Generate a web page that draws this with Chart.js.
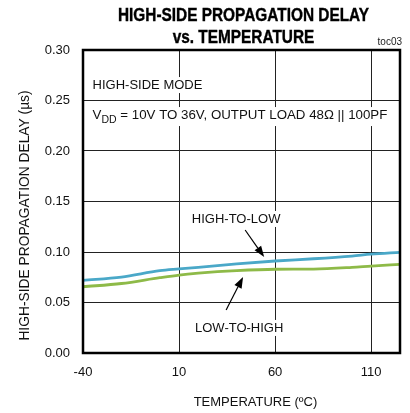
<!DOCTYPE html>
<html>
<head>
<meta charset="utf-8">
<script src="https://cdn.jsdelivr.net/npm/chart.js@4.4.1/dist/chart.umd.min.js"></script>
<style>
  html, body { margin: 0; padding: 0; background: #fff; }
  #wrap { width: 410px; height: 413px; }
</style>
</head>
<body>
<div id="wrap"><canvas id="grafico"></canvas></div>
<script>
// Datos
const temperaturas = [-40, -20, 0, 10, 20, 40, 60, 80, 100, 110, 125];
const altoABajo = [0.0720, 0.0752, 0.0815, 0.0832, 0.0848, 0.0882, 0.0911, 0.0933, 0.0960, 0.0978, 0.0997];
const bajoAAlto = [0.0656, 0.0688, 0.0746, 0.0772, 0.0790, 0.0815, 0.0829, 0.0831, 0.0848, 0.0861, 0.0878];
const ticksX = [-40, 10, 60, 110];
const ticksY = [0, 0.05, 0.10, 0.15, 0.20, 0.25, 0.30];
const titulo = ['HIGH-SIDE PROPAGATION DELAY', 'vs. TEMPERATURE'];

const fuente = '"Liberation Sans", Arial, sans-serif';

// anotaciones en unidades de datos
const notas = {
    modo: { x: -35, y: 0.2653, texto: 'HIGH-SIDE MODE' },
    vdd: { x: -35, y: 0.2356 },
    altoBajo: { x: 39.7, y: 0.1327, texto: 'HIGH-TO-LOW', desde: [44.4, 0.1218], hasta: [54.3, 0.0950] },
    bajoAlto: { x: 41.3, y: 0.0248, texto: 'LOW-TO-HIGH', desde: [34.5, 0.0426], hasta: [43.3, 0.0752] }
};

function textoConFondo(ctx, texto, x, y, align) {
    const w = ctx.measureText(texto).width;
    const x0 = align === 'center' ? x - w / 2 : x;
    ctx.fillStyle = '#fff';
    ctx.fillRect(x0 - 2, y - 8, w + 4, 16);
    ctx.fillStyle = '#111';
    ctx.textAlign = align;
    ctx.textBaseline = 'middle';
    ctx.fillText(texto, x, y);
    return w;
}

function flecha(ctx, x1, y1, x2, y2) {
    const ang = Math.atan2(y2 - y1, x2 - x1);
    const largo = 11, ancho = 4;
    const bx = x2 - largo * Math.cos(ang), by = y2 - largo * Math.sin(ang);
    ctx.strokeStyle = '#000';
    ctx.lineWidth = 1.2;
    ctx.beginPath();
    ctx.moveTo(x1, y1);
    ctx.lineTo(bx, by);
    ctx.stroke();
    ctx.fillStyle = '#000';
    ctx.beginPath();
    ctx.moveTo(x2, y2);
    ctx.lineTo(bx + ancho * Math.sin(ang), by - ancho * Math.cos(ang));
    ctx.lineTo(bx - ancho * Math.sin(ang), by + ancho * Math.cos(ang));
    ctx.closePath();
    ctx.fill();
}

const pluginNotas = {
    id: 'notas',
    beforeDatasetsDraw(chart) {
        const ctx = chart.ctx;
        const sx = chart.scales.x, sy = chart.scales.y;
        ctx.save();
        ctx.font = '13px ' + fuente;

        textoConFondo(ctx, notas.modo.texto, sx.getPixelForValue(notas.modo.x), sy.getPixelForValue(notas.modo.y), 'left');

        // linea VDD con subindice
        let x = sx.getPixelForValue(notas.vdd.x);
        const y = sy.getPixelForValue(notas.vdd.y);
        const resto = ' = 10V TO 36V, OUTPUT LOAD 48Ω || 100PF';
        ctx.font = '13.3px ' + fuente;
        const wV = ctx.measureText('V').width;
        ctx.font = '10.5px ' + fuente;
        const wDD = ctx.measureText('DD').width;
        ctx.font = '13.3px ' + fuente;
        const wR = ctx.measureText(resto).width;
        ctx.fillStyle = '#fff';
        ctx.fillRect(x - 2, y - 8, wV + wDD + wR + 4, 19);
        ctx.fillStyle = '#111';
        ctx.textAlign = 'left';
        ctx.textBaseline = 'middle';
        ctx.fillText('V', x, y);
        ctx.font = '10.5px ' + fuente;
        ctx.fillText('DD', x + wV, y + 5);
        ctx.font = '13.3px ' + fuente;
        ctx.fillText(resto, x + wV + wDD, y);

        ctx.font = '13px ' + fuente;
        [notas.altoBajo, notas.bajoAlto].forEach(n => {
            textoConFondo(ctx, n.texto, sx.getPixelForValue(n.x), sy.getPixelForValue(n.y), 'center');
        });
        ctx.restore();
    },
    afterDraw(chart) {
        const ctx = chart.ctx;
        const a = chart.chartArea;
        const sx = chart.scales.x, sy = chart.scales.y;
        ctx.save();
        [notas.altoBajo, notas.bajoAlto].forEach(n => {
            flecha(ctx, sx.getPixelForValue(n.desde[0]), sy.getPixelForValue(n.desde[1]),
                sx.getPixelForValue(n.hasta[0]), sy.getPixelForValue(n.hasta[1]));
        });

        // marco del área
        ctx.strokeStyle = '#000';
        ctx.lineWidth = 2.5;
        ctx.strokeRect(a.left, a.top, a.right - a.left, a.bottom - a.top);

        // títulos de ejes
        ctx.fillStyle = '#111';
        ctx.font = '13px ' + fuente;
        ctx.textAlign = 'center';
        ctx.textBaseline = 'middle';
        ctx.fillText('TEMPERATURE (ºC)', (a.left + a.right) / 2 + 14, 402);
        ctx.save();
        ctx.translate(25, (a.top + a.bottom) / 2 + 14);
        ctx.rotate(-Math.PI / 2);
        ctx.font = '13.8px ' + fuente;
        ctx.fillText('HIGH-SIDE PROPAGATION DELAY (µs)', 0, 0);
        ctx.restore();

        // título condensado
        ctx.save();
        ctx.fillStyle = '#000';
        ctx.strokeStyle = '#000';
        ctx.lineWidth = 0.4;
        ctx.font = 'bold 19px ' + fuente;
        ctx.textAlign = 'center';
        ctx.textBaseline = 'alphabetic';
        ctx.translate((a.left + a.right) / 2 + 2, 0);
        ctx.scale(0.81, 1);
        ctx.fillText(titulo[0], 0, 21);
        ctx.strokeText(titulo[0], 0, 21);
        ctx.fillText(titulo[1], 0, 43);
        ctx.strokeText(titulo[1], 0, 43);
        ctx.restore();

        ctx.font = '10px ' + fuente;
        ctx.fillStyle = '#222';
        ctx.textAlign = 'right';
        ctx.textBaseline = 'middle';
        ctx.fillText('toc03', a.right + 2, a.top - 8);
        ctx.restore();
    }
};

const ctx = document.getElementById('grafico');
new Chart(ctx, {
    type: 'line',
    data: {
        labels: temperaturas,
        datasets: [
            {
                label: 'HIGH-TO-LOW',
                data: temperaturas.map((t, i) => ({ x: t, y: altoABajo[i] })),
                borderColor: 'rgb(74, 168, 200)',
                borderWidth: 2.8,
                pointRadius: 0,
                cubicInterpolationMode: 'monotone',
                fill: false
            },
            {
                label: 'LOW-TO-HIGH',
                data: temperaturas.map((t, i) => ({ x: t, y: bajoAAlto[i] })),
                borderColor: 'rgb(142, 186, 72)',
                borderWidth: 2.8,
                pointRadius: 0,
                cubicInterpolationMode: 'monotone',
                fill: false
            }
        ]
    },
    options: {
        responsive: true,
        maintainAspectRatio: false,
        animation: false,
        layout: { padding: { left: 0, right: 10, top: 50, bottom: 0 } },
        plugins: {
            legend: { display: false },
            tooltip: { enabled: false },
            title: { display: false }
        },
        scales: {
            x: {
                type: 'linear',
                min: -40,
                max: 125,
                afterBuildTicks: (escala) => { escala.ticks = ticksX.map(v => ({ value: v })); },
                afterFit: (escala) => { escala.height = 60; },
                grid: { color: '#222', lineWidth: 1, drawTicks: false },
                border: { display: false },
                ticks: {
                    color: '#111',
                    padding: 12,
                    maxRotation: 0,
                    font: { family: fuente, size: 13 }
                }
            },
            y: {
                min: 0,
                max: 0.30,
                afterBuildTicks: (escala) => { escala.ticks = ticksY.map(v => ({ value: v })); },
                afterFit: (escala) => { escala.width = 83; },
                grid: { color: '#222', lineWidth: 1, drawTicks: false },
                border: { display: false },
                ticks: {
                    color: '#111',
                    padding: 13,
                    font: { family: fuente, size: 13 },
                    callback: (v) => v.toFixed(2)
                }
            }
        }
    },
    plugins: [pluginNotas]
});
</script>
</body>
</html>
